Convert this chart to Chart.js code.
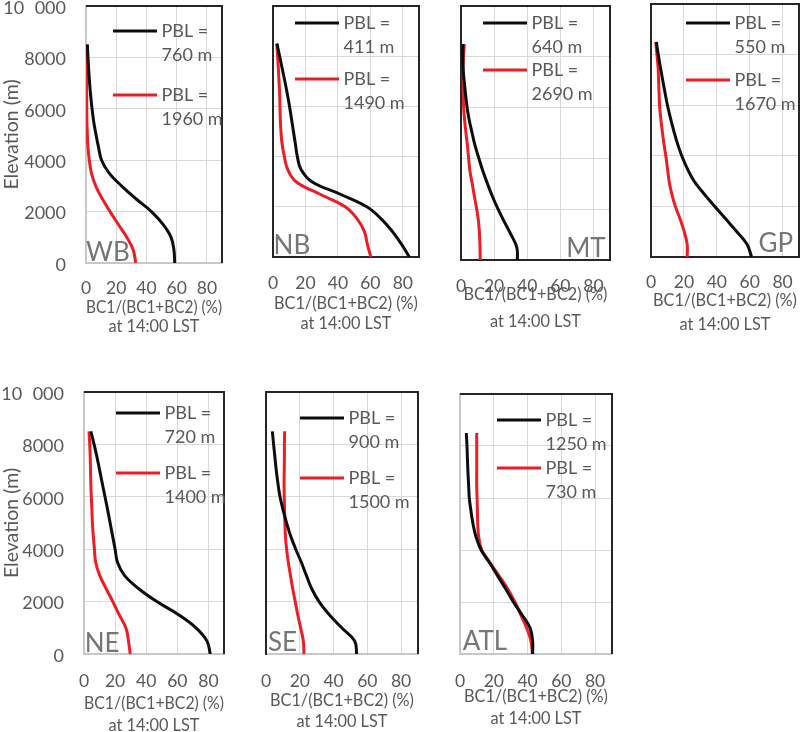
<!DOCTYPE html>
<html>
<head>
<meta charset="utf-8">
<script src="https://cdn.jsdelivr.net/npm/chart.js@4.4.0/dist/chart.umd.min.js"></script>
<style>
html, body { margin: 0; padding: 0; background: #fff; width: 800px; height: 732px; overflow: hidden; position: relative; }
canvas { position: absolute; }
</style>
</head>
<body>
<script>
const elevation = [0, 500, 1000, 1500, 2000, 2500, 3000, 3500, 4000, 4500, 5000, 5500, 6000, 6500, 7000, 7500, 8000, 8500];

const regions = ['WB', 'NB', 'MT', 'GP', 'NE', 'SE', 'ATL'];
const pblBlack = ['760 m', '411 m', '640 m', '550 m', '720 m', '900 m', '1250 m'];
const pblRed = ['1960 m', '1490 m', '2690 m', '1670 m', '1400 m', '1500 m', '730 m'];

// BC1/(BC1+BC2) (%) at 14:00 LST, one value per elevation level
const wbBlack = [58.7, 58.2, 56.3, 51, 43.3, 33, 23.5, 15.3, 10.3, 8.3, 6.6, 5.1, 4, 3.1, 2.4, 1.8, 1.3, 0.9];
const wbRed = [32.9, 31.3, 27, 21.4, 15.9, 10.8, 6.4, 3.6, 2.2, 1.3, 0.9, 0.6, 0.5, 0.4, 0.4, 0.4, 0.5, 0.8];
const nbBlack = [84, 79.3, 73.8, 67, 57.8, 41.5, 24, 17.2, 15, 13.8, 12.6, 11.4, 10.2, 8.8, 7.3, 5.7, 4.1, 2.4];
const nbRed = [60.3, 58.2, 56.4, 52.1, 44.5, 29, 14.2, 9, 7, 5.6, 4.9, 4.5, 4.3, 4.1, 3.7, 3.3, 2.85, 2.4];
const mtBlack = [34.1, 33.7, 30.2, 26.2, 22.4, 19, 16, 13.2, 10.8, 8.5, 6.7, 5, 3.7, 2.8, 2, 1.3, 1.1, 1.2];
const mtRed = [11.6, 11.5, 11.2, 10.6, 9.5, 8.1, 6.8, 5.4, 4.6, 3.9, 3, 2.2, 1.6, 1.4, 1.3, 1.2, 1.5, 2];
const gpBlack = [61.2, 58.4, 52.2, 45.5, 38.8, 32.2, 26.2, 22, 18.7, 16, 13.8, 11.8, 10, 8.5, 7.1, 5.7, 4.4, 3.3];
const gpRed = [22, 22, 20.2, 17.7, 14.8, 12.6, 11, 10, 9, 7.8, 6.8, 5.9, 5.2, 4.9, 4.6, 4.3, 3.6, 2.9];
const neBlack = [81.2, 79, 72, 60.8, 46.8, 35, 26, 21.5, 20, 18.4, 16.8, 15.2, 13.5, 11.8, 10.1, 8.4, 6.5, 4.4];
const neRed = [29.7, 28.6, 26.9, 22.6, 18.5, 14.2, 10.1, 7.5, 6.7, 6, 5.4, 5.1, 4.7, 4.4, 4.2, 4, 3.7, 3.2];
const seBlack = [53.7, 52.5, 44.8, 37.5, 31.4, 27, 23.9, 20.9, 17.6, 14.6, 12.2, 10.1, 8.3, 7.1, 6.1, 5.3, 4.5, 3.75];
const seRed = [22.5, 22.1, 20.5, 18.8, 17.3, 15.8, 14.5, 13.2, 12.2, 11.5, 11.2, 11, 10.8, 10.7, 10.8, 10.9, 10.9, 11.05];
const atlBlack = [43, 43, 41.5, 36.8, 31.6, 27.1, 22.3, 17.6, 12.5, 9.5, 7.7, 6.5, 5.5, 5.1, 4.7, 4.4, 4.15, 3.75];
const atlRed = [42.9, 42, 39.5, 36, 32.5, 28.3, 23.2, 17.9, 12.9, 11.1, 10.5, 10.3, 10.1, 9.9, 9.9, 9.9, 9.9, 9.9];

const blackSeries = [wbBlack, nbBlack, mtBlack, gpBlack, neBlack, seBlack, atlBlack];
const redSeries = [wbRed, nbRed, mtRed, gpRed, neRed, seRed, atlRed];

const xTicks = [0, 20, 40, 60, 80];
const yTicks = [0, 2000, 4000, 6000, 8000, 10000];
const yTickLabels = ['0', '2000', '4000', '6000', '8000', '10\u2007000'];
const xTitle = ['BC1/(BC1+BC2) (%)', 'at 14:00 LST'];
const yTitle = 'Elevation (m)';

// plot area boxes in page pixels and per panel text placement
const boxes = [
    {L: 86,  T: 6,   R: 222, B: 263, yw: 86, xh: 80, tp: 15,   lh: 19,   pb: 6.5, lab: 'left',  li: 0,   lu: 2,   legX: 27, legY: [25, 89], left: '#c8c8c8', bottom: '#c8c8c8'},
    {L: 273, T: 6,   R: 419, B: 257, yw: 14, xh: 80, tp: 15.5, lh: 20,   pb: 3,   lab: 'left',  li: 0.6, lu: 3,   legX: 22, legY: [17, 73], left: '#262626', bottom: '#262626'},
    {L: 461, T: 6,   R: 610, B: 260, yw: 14, xh: 80, tp: 15.5, lh: 27,   pb: 4.5, lab: 'right', li: 4.3, lu: 3,   legX: 22, legY: [17, 64], left: '#262626', bottom: '#262626'},
    {L: 651, T: 4,   R: 799, B: 257, yw: 14, xh: 80, tp: 14.5, lh: 23.5, pb: 1,   lab: 'right', li: 6,   lu: 5,   legX: 35, legY: [19, 76], left: '#262626', bottom: '#262626'},
    {L: 84,  T: 392, R: 224, B: 654, yw: 84, xh: 90, tp: 16.5, lh: 21.5, pb: 7.8, lab: 'left',  li: 0.7, lu: 2.3, legX: 32, legY: [21, 81], left: '#c8c8c8', bottom: '#c8c8c8'},
    {L: 266, T: 392, R: 418, B: 654, yw: 14, xh: 90, tp: 16.5, lh: 21.5, pb: 11.2, lab: 'left', li: 2,   lu: 3.3, legX: 34, legY: [26, 86], left: '#262626', bottom: '#c8c8c8'},
    {L: 460, T: 394, R: 612, B: 654, yw: 14, xh: 90, tp: 17,   lh: 22,   pb: 14,  lab: 'left',  li: 2.7, lu: 4,   legX: 37, legY: [26, 74], left: '#c8c8c8', bottom: '#c8c8c8'}
];

const FONT = 'Lato';
const GREY = '#595959';
const BLACK = '#0d0d0d';
const RED = '#ee1c24';
const PAD_RIGHT = 1;

function panelChart(i) {
    const b = boxes[i];
    const showY = (i === 0 || i === 4);
    const padTop = Math.min(6, b.T);

    var cv = document.createElement('canvas');
    cv.width = Math.round(b.R - b.L + b.yw + PAD_RIGHT);
    cv.height = Math.round(b.B - b.T + padTop + b.xh);
    cv.style.left = (b.L - b.yw) + 'px';
    cv.style.top = (b.T - padTop) + 'px';
    document.body.appendChild(cv);

    // frame (top + right), inline legend and region name
    const decor = {
        id: 'decor',
        afterDraw(chart) {
            const ctx = chart.ctx;
            const a = chart.chartArea;
            ctx.save();
            ctx.strokeStyle = '#262626';
            ctx.lineWidth = 2;
            ctx.beginPath();
            ctx.moveTo(a.left, a.top);
            ctx.lineTo(a.right, a.top);
            ctx.lineTo(a.right, a.bottom);
            ctx.stroke();

            chart.data.datasets.forEach(function (ds, k) {
                var y = a.top + b.legY[k];
                var x0 = a.left + b.legX;
                ctx.strokeStyle = ds.borderColor;
                ctx.lineWidth = 3;
                ctx.beginPath();
                ctx.moveTo(x0, y);
                ctx.lineTo(x0 + 44, y);
                ctx.stroke();
                var parts = ds.label.split('= ');
                ctx.fillStyle = GREY;
                ctx.font = '18px ' + FONT;
                ctx.textBaseline = 'middle';
                ctx.textAlign = 'left';
                ctx.fillText(parts[0] + '=', x0 + 48.5, y);
                ctx.fillText(parts[1], x0 + 48.5, y + 24);
            });

            ctx.font = '26px ' + FONT;
            ctx.fillStyle = '#767676';
            ctx.textBaseline = 'alphabetic';
            ctx.textAlign = b.lab;
            var lx = b.lab === 'left' ? a.left + b.li : a.right - b.li;
            ctx.fillText(regions[i], lx, a.bottom - b.lu);
            ctx.restore();
        }
    };

    return new Chart(cv, {
        type: 'line',
        data: {
            datasets: [
                {
                    label: 'PBL = ' + pblBlack[i],
                    data: elevation.map(function (e, j) { return {x: blackSeries[i][j], y: e}; }),
                    borderColor: BLACK
                },
                {
                    label: 'PBL = ' + pblRed[i],
                    data: elevation.map(function (e, j) { return {x: redSeries[i][j], y: e}; }),
                    borderColor: RED
                }
            ]
        },
        options: {
            responsive: false,
            animation: false,
            indexAxis: 'y',
            layout: {padding: {top: padTop, right: PAD_RIGHT, left: 0, bottom: 0}},
            elements: {
                point: {radius: 0},
                line: {borderWidth: 3, tension: 0.4, fill: false}
            },
            plugins: {legend: {display: false}, tooltip: {enabled: false}},
            scales: {
                x: {
                    type: 'linear',
                    min: 0,
                    max: 90,
                    afterBuildTicks: function (s) { s.ticks = xTicks.map(function (v) { return {value: v}; }); },
                    afterFit: function (s) { s.height = b.xh; s.paddingLeft = 0; s.paddingRight = 0; },
                    grid: {color: '#d9d9d9', drawTicks: false},
                    border: {color: b.bottom, width: 2},
                    ticks: {padding: b.tp, color: GREY, font: {family: FONT, size: 17.5}, maxRotation: 0, autoSkip: false},
                    title: {
                        display: true,
                        text: xTitle,
                        color: GREY,
                        font: {family: FONT, size: 16.3, lineHeight: b.lh + 'px'},
                        padding: {top: 0, bottom: b.pb}
                    }
                },
                y: {
                    type: 'linear',
                    min: 0,
                    max: 10000,
                    afterBuildTicks: function (s) { s.ticks = yTicks.map(function (v) { return {value: v}; }); },
                    afterFit: function (s) { s.width = b.yw; s.paddingTop = 0; s.paddingBottom = 0; },
                    grid: {color: '#d9d9d9', drawTicks: false},
                    border: {color: b.left, width: 2},
                    ticks: {
                        display: showY,
                        padding: 20,
                        labelOffset: 2,
                        color: GREY,
                        font: {family: FONT, size: 18},
                        callback: function (v) { return yTickLabels[yTicks.indexOf(v)]; }
                    },
                    title: {
                        display: showY,
                        text: yTitle,
                        color: GREY,
                        font: {family: FONT, size: 19.5},
                        padding: {top: 0, bottom: 0}
                    }
                }
            }
        },
        plugins: [decor]
    });
}

for (var i = 0; i < regions.length; i++) {
    panelChart(i);
}
</script>
</body>
</html>
